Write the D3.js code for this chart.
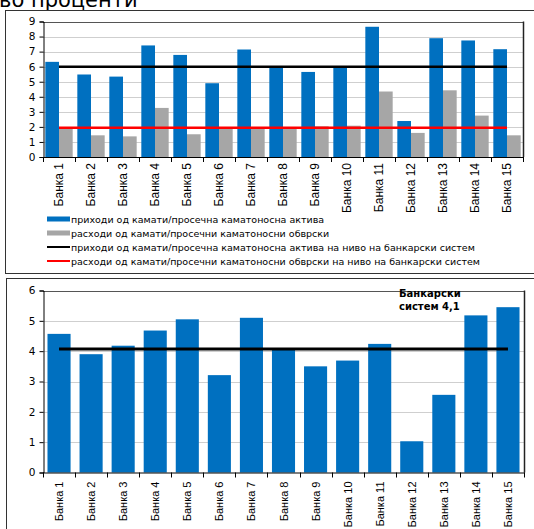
<!DOCTYPE html>
<html><head><meta charset="utf-8">
<script src="https://cdn.jsdelivr.net/npm/d3@7"></script>
<style>body{margin:0;background:#fff;overflow:hidden}svg{display:block}</style>
</head><body>
<svg id="c" width="534" height="529"></svg>
<script>
const banks = ["Банка 1","Банка 2","Банка 3","Банка 4","Банка 5","Банка 6","Банка 7","Банка 8","Банка 9","Банка 10","Банка 11","Банка 12","Банка 13","Банка 14","Банка 15"];
const incomeRate = [6.32,5.48,5.34,7.41,6.78,4.90,7.14,5.99,5.65,5.99,8.65,2.39,7.89,7.74,7.16];
const expenseRate = [1.93,1.44,1.37,3.26,1.51,1.92,1.92,1.93,2.04,2.08,4.35,1.60,4.43,2.75,1.44];
const systemIncome = 6.0;
const systemExpense = 1.95;
const topTicks = [0,1,2,3,4,5,6,7,8,9];
const legendLabels = [
  "приходи од камати/просечна каматоносна актива",
  "расходи од камати/просечни каматоносни обврски",
  "приходи од камати/просечна каматоносна актива на ниво на банкарски систем",
  "расходи од камати/просечни каматоносни обврски на ниво на банкарски систем"
];
const spread = [4.57,3.90,4.18,4.68,5.05,3.21,5.10,4.08,3.50,3.69,4.24,1.03,2.56,5.18,5.45];
const systemSpread = 4.07;
const bottomTicks = [0,1,2,3,4,5,6];
const systemLabel = ["Банкарски","систем 4,1"];
const titleText = "во проценти";

const BLUE="#0070C0", GRAY="#A6A6A6", RED="#FF0000", GRID="#cfcfcf";
const svg = d3.select("#c");
const F = "DejaVu Sans, Verdana, sans-serif";
const FN = "'Liberation Sans Narrow', 'Arial Narrow', 'Liberation Sans', Arial, sans-serif";

// title (cut off at top, as in the reference)
svg.append("text").attr("x",-1).attr("y",6.5).attr("font-family",F).attr("font-size",21).attr("fill","#000").text(titleText);

// frames
svg.append("rect").attr("x",5.5).attr("y",10.5).attr("width",540).attr("height",263).attr("fill","none").attr("stroke","#333").attr("stroke-width",1);
svg.append("rect").attr("x",6.5).attr("y",278.5).attr("width",540).attr("height",260).attr("fill","none").attr("stroke","#333").attr("stroke-width",1);

function drawAxes(g, x, y, ticks, top, bottom, left, right){
  g.selectAll(".grid").data(ticks.filter(t=>t>0)).join("line")
    .attr("x1",left).attr("x2",right).attr("y1",d=>Math.round(y(d))+0.5).attr("y2",d=>Math.round(y(d))+0.5)
    .attr("stroke",GRID).attr("stroke-width",1);
  g.append("line").attr("x1",left).attr("x2",right+0.5).attr("y1",Math.round(top)+0.5).attr("y2",Math.round(top)+0.5).attr("stroke","#555");
  g.append("line").attr("x1",right+0.5).attr("x2",right+0.5).attr("y1",top).attr("y2",bottom).attr("stroke","#222").attr("stroke-width",1.5);
}

// ---------- Top chart ----------
{
  const left=43, right=523, top=21.5, bottom=157;
  const x = d3.scaleBand().domain(banks).range([left,right]).padding(0);
  const x1 = d3.scaleBand().domain(["inc","exp"]).range([0,x.bandwidth()]).paddingInner(0).paddingOuter(0.17);
  const y = d3.scaleLinear().domain([0,9]).range([bottom,top]);
  const g = svg.append("g");
  drawAxes(g,x,y,topTicks,top,bottom,left,right);
  const grp = g.selectAll(".bg").data(banks).join("g").attr("transform",d=>`translate(${x(d)},0)`);
  grp.append("rect").attr("x",x1("inc")).attr("width",x1.bandwidth()).attr("y",(d,i)=>y(incomeRate[i])).attr("height",(d,i)=>y(0)-y(incomeRate[i])).attr("fill",BLUE);
  grp.append("rect").attr("x",x1("exp")).attr("width",x1.bandwidth()).attr("y",(d,i)=>y(expenseRate[i])).attr("height",(d,i)=>y(0)-y(expenseRate[i])).attr("fill",GRAY);
  const xs = x(banks[0])+x.bandwidth()/2, xe = x(banks[banks.length-1])+x.bandwidth()/2;
  g.append("line").attr("x1",xs).attr("x2",xe).attr("y1",y(systemIncome)).attr("y2",y(systemIncome)).attr("stroke","#000").attr("stroke-width",2.5);
  g.append("line").attr("x1",xs).attr("x2",xe).attr("y1",y(systemExpense)).attr("y2",y(systemExpense)).attr("stroke",RED).attr("stroke-width",2.5);
  const ya = g.append("g").attr("transform",`translate(${left+0.5},0)`).call(d3.axisLeft(y).tickValues(topTicks).tickSize(4).tickFormat(d3.format("d")));
  ya.select(".domain").attr("stroke","#000");
  ya.selectAll("text").attr("font-family",F).attr("font-size",10.5).attr("fill","#000").attr("x",-8);
  g.append("line").attr("x1",left).attr("x2",right+1).attr("y1",bottom+0.5).attr("y2",bottom+0.5).attr("stroke","#000");
  g.selectAll(".xt").data(banks.concat(["_end"])).join("line")
    .attr("x1",d=>d==="_end"?right+0.5:Math.round(x(d))+0.5).attr("x2",d=>d==="_end"?right+0.5:Math.round(x(d))+0.5)
    .attr("y1",bottom).attr("y2",bottom+5).attr("stroke","#000");
  g.selectAll(".xl").data(banks).join("text")
    .attr("transform",d=>`translate(${x(d)+x.bandwidth()/2+4},${bottom+6}) rotate(-90)`)
    .attr("text-anchor","end").attr("font-family",FN).attr("font-size",12).attr("fill","#000").text(d=>d);
  const lg = g.append("g");
  const ly = [219,233,247,261];
  legendLabels.forEach((t,i)=>{
    if(i<2){
      lg.append("rect").attr("x",47).attr("y",ly[i]-2.5).attr("width",23).attr("height",5).attr("fill",i===0?BLUE:GRAY);
    } else {
      lg.append("line").attr("x1",47).attr("x2",70).attr("y1",ly[i]).attr("y2",ly[i]).attr("stroke",i===2?"#000":RED).attr("stroke-width",2);
    }
    lg.append("text").attr("x",71).attr("y",ly[i]+3.5).attr("font-family",F).attr("font-size",9.5).attr("fill","#000").text(t);
  });
}

// ---------- Bottom chart ----------
{
  const left=43, right=524, top=290.5, bottom=472.5;
  const x = d3.scaleBand().domain(banks).range([left,right]).paddingInner(0.28).paddingOuter(0.14);
  const xb = d3.scaleBand().domain(banks).range([left,right]).padding(0);
  const y = d3.scaleLinear().domain([0,6]).range([bottom,top]);
  const g = svg.append("g");
  drawAxes(g,x,y,bottomTicks,top,bottom,left,right);
  g.selectAll(".b").data(banks).join("rect")
    .attr("x",d=>x(d)).attr("width",x.bandwidth())
    .attr("y",(d,i)=>y(spread[i])).attr("height",(d,i)=>y(0)-y(spread[i])).attr("fill",BLUE);
  const xs = xb(banks[0])+xb.bandwidth()/2, xe = xb(banks[banks.length-1])+xb.bandwidth()/2;
  g.append("line").attr("x1",xs).attr("x2",xe).attr("y1",y(systemSpread)).attr("y2",y(systemSpread)).attr("stroke","#000").attr("stroke-width",3);
  const ya = g.append("g").attr("transform",`translate(${left+0.5},0)`).call(d3.axisLeft(y).tickValues(bottomTicks).tickSize(4).tickFormat(d3.format("d")));
  ya.select(".domain").attr("stroke","#000");
  ya.selectAll("text").attr("font-family",F).attr("font-size",10.5).attr("fill","#000").attr("x",-8);
  g.append("line").attr("x1",left).attr("x2",right+1).attr("y1",bottom+0.5).attr("y2",bottom+0.5).attr("stroke","#000");
  g.selectAll(".xt").data(banks.concat(["_end"])).join("line")
    .attr("x1",d=>d==="_end"?right+0.5:Math.round(xb(d))+0.5).attr("x2",d=>d==="_end"?right+0.5:Math.round(xb(d))+0.5)
    .attr("y1",bottom).attr("y2",bottom+5).attr("stroke","#000");
  g.selectAll(".xl").data(banks).join("text")
    .attr("transform",d=>`translate(${xb(d)+xb.bandwidth()/2+4},${bottom+9}) rotate(-90)`)
    .attr("text-anchor","end").attr("font-family",FN).attr("font-size",11).attr("fill","#000").text(d=>d);
  systemLabel.forEach((t,i)=>{
    g.append("text").attr("x",399).attr("y",297+i*12.5).attr("font-family",F).attr("font-weight","bold").attr("font-size",10).attr("fill","#000").text(t);
  });
}
</script>
</body></html>
